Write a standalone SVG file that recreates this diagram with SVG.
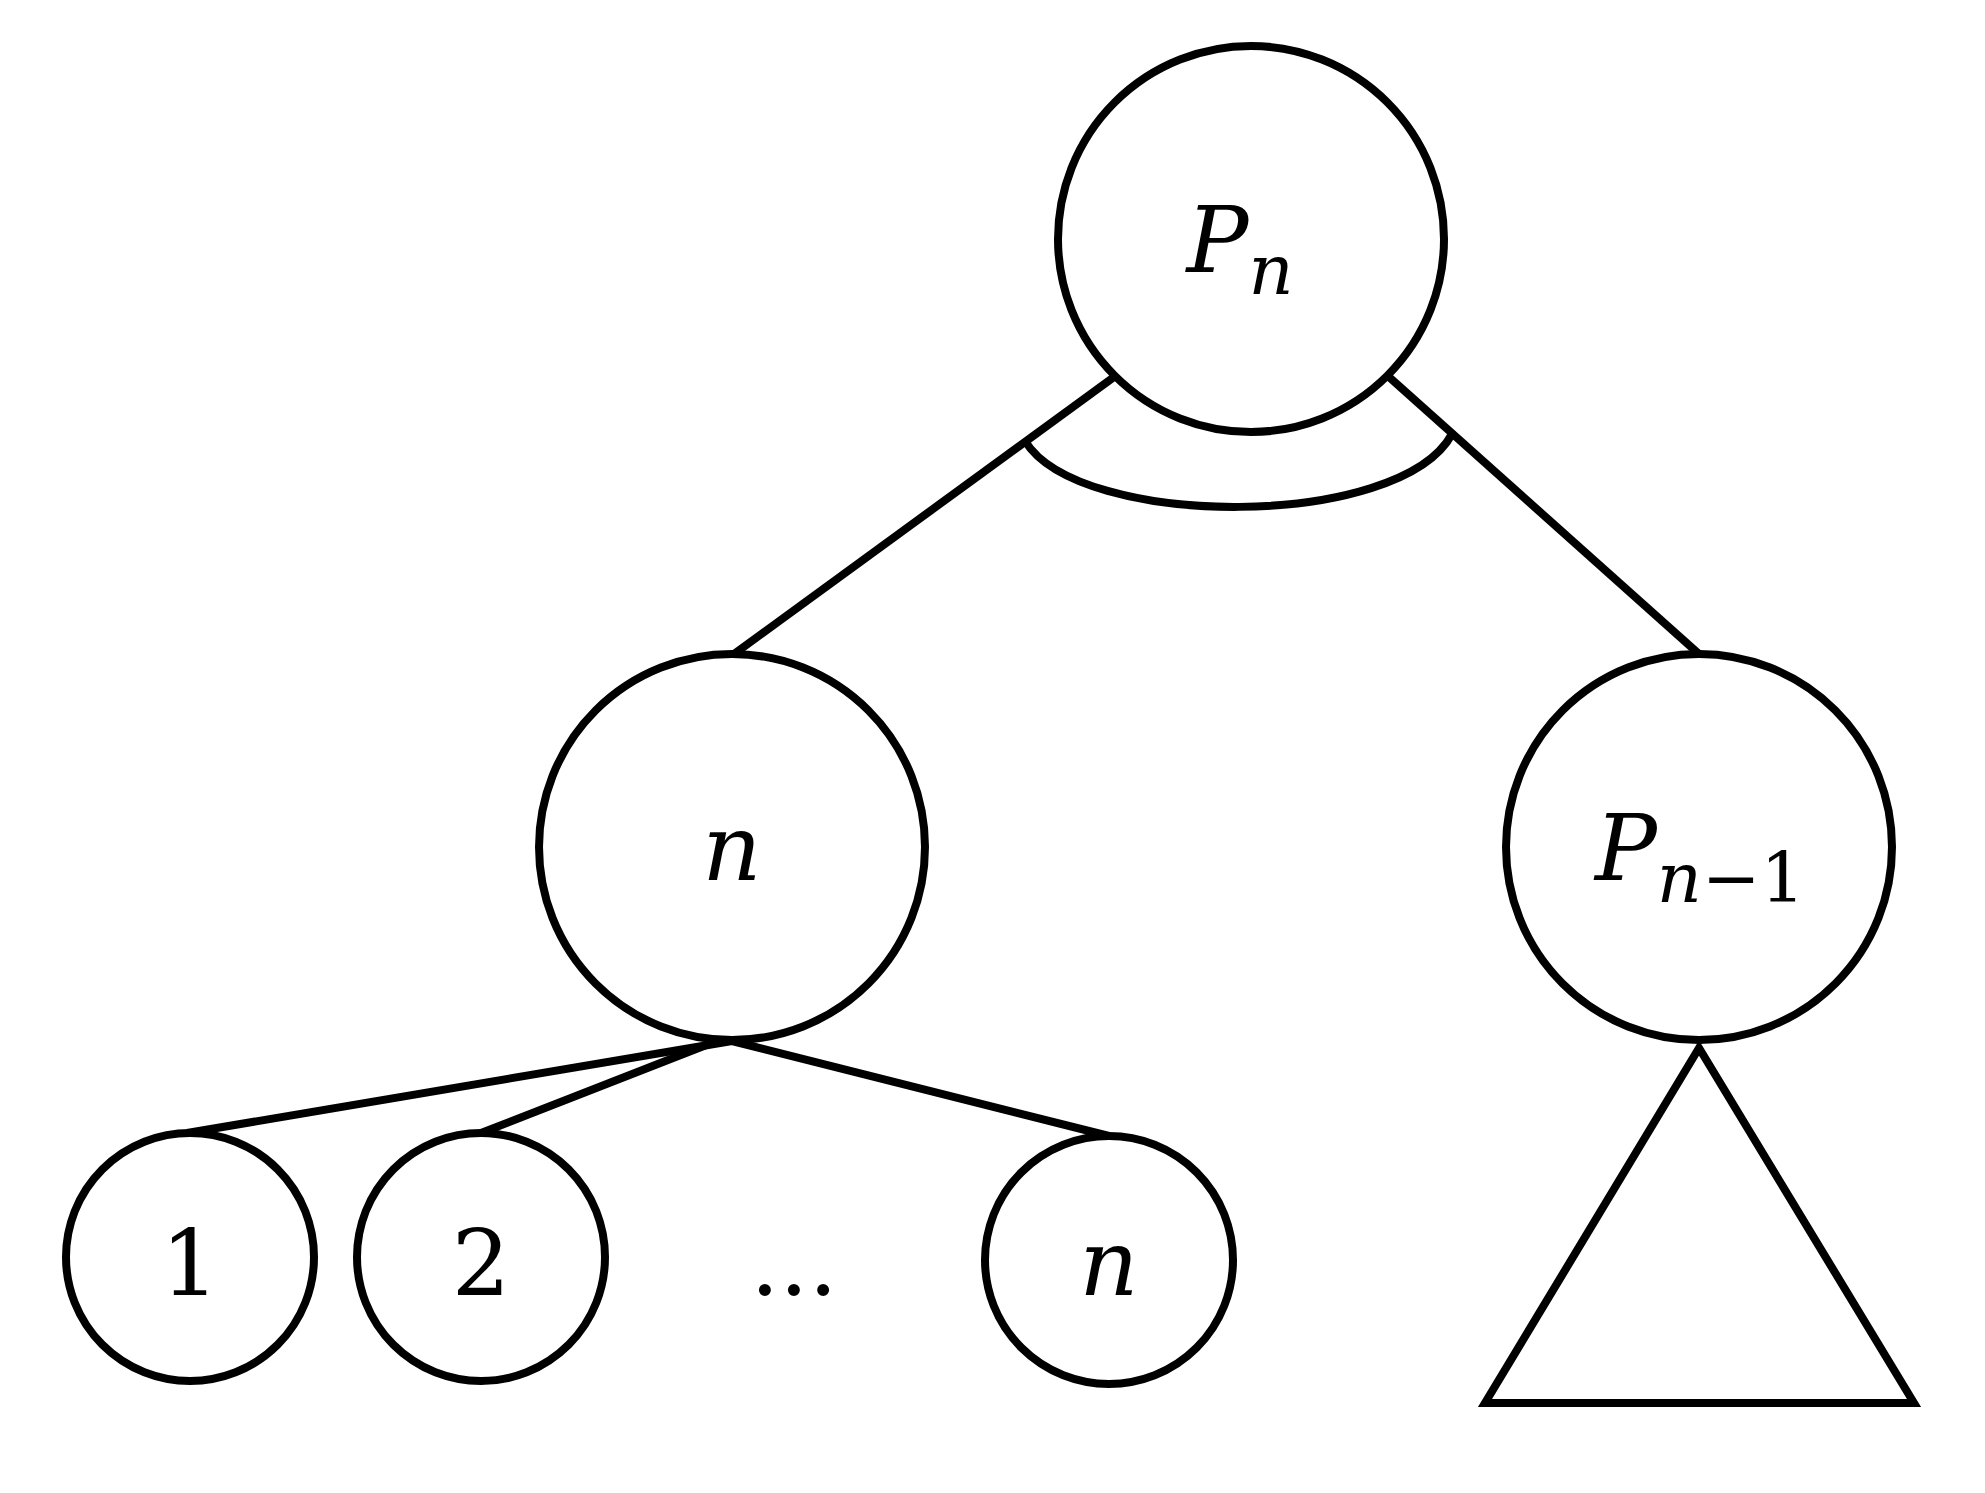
<svg xmlns="http://www.w3.org/2000/svg" width="1985" height="1493" viewBox="0 0 1985 1493">
<style>
.c{fill:#fff;stroke:#000;stroke-width:8}
.l{fill:none;stroke:#000;stroke-width:8}
.t{font-family:"DejaVu Serif",serif;font-size:92px;text-anchor:middle}
.i{font-style:italic}
</style>
<rect width="1985" height="1493" fill="#fff"/>
<g id="connectors">
<line class="l" x1="1114" y1="377" x2="734" y2="654"/>
<line class="l" x1="1389" y1="377" x2="1699" y2="654"/>
<path class="l" d="M1025 441 C1080 530 1400 530 1452 434"/>
<line class="l" x1="732" y1="1041" x2="187" y2="1133"/>
<line class="l" x1="709" y1="1044" x2="481" y2="1133"/>
<line class="l" x1="732" y1="1041" x2="1109" y2="1136"/>
</g>
<g id="root"><circle class="c" cx="1251" cy="239" r="193"/>
<text class="t i" x="1240" y="272">P<tspan font-size="70" dy="22">n</tspan></text></g>
<g id="n"><circle class="c" cx="732" cy="847" r="193"/><text class="t i" x="732" y="880">n</text></g>
<g id="pn1"><circle class="c" cx="1699" cy="847" r="193"/>
<text class="t i" x="1700" y="880">P<tspan font-size="70" dy="22">n</tspan><tspan font-size="70" font-style="normal">−1</tspan></text></g>
<g id="c1"><circle class="c" cx="190" cy="1257" r="124"/><text class="t" x="190" y="1295">1</text></g>
<g id="c2"><circle class="c" cx="481" cy="1257" r="124"/><text class="t" x="481" y="1295">2</text></g>
<g id="dots"><text class="t" x="794" y="1295">...</text></g>
<g id="cn"><circle class="c" cx="1109" cy="1260" r="124"/><text class="t i" x="1109" y="1295">n</text></g>
<g id="tri"><polygon class="c" points="1699,1048 1485,1403 1914,1403"/></g>
</svg>
